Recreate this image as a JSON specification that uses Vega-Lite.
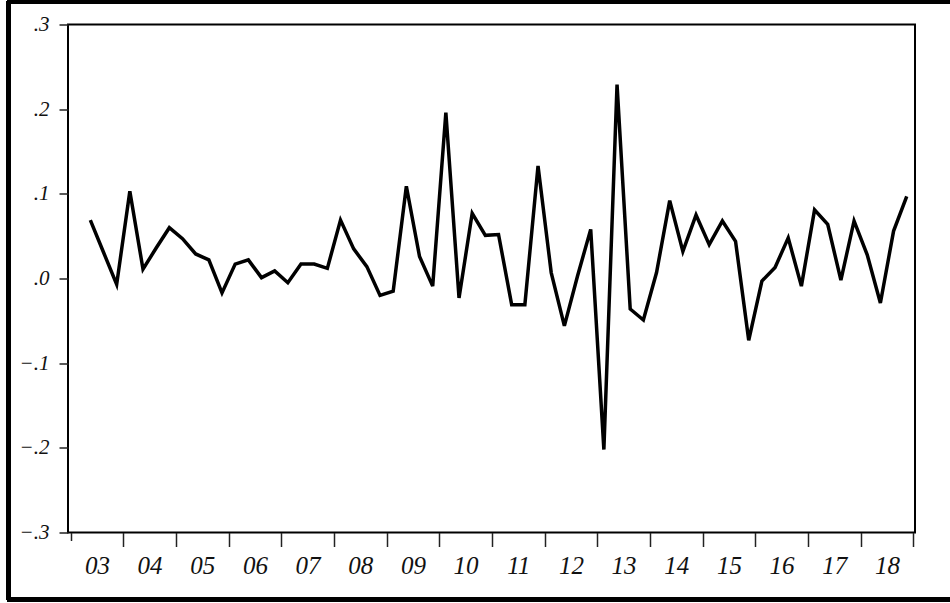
{
  "$schema": "https://vega.github.io/schema/vega-lite/v6.json",
  "autosize": {"type": "none"},
  "width": 847,
  "height": 508,
  "padding": {"left": 68, "top": 24.5, "right": 35, "bottom": 70.5},
  "background": "white",
  "config": {
    "font": "Liberation Serif",
    "view": {"stroke": "black", "strokeWidth": 2}
  },
  "data": {
    "values": [
      {"t": 2003.375, "v": 0.069}, {"t": 2003.625, "v": 0.031}, {"t": 2003.875, "v": -0.007},
      {"t": 2004.125, "v": 0.103}, {"t": 2004.375, "v": 0.011}, {"t": 2004.625, "v": 0.036}, {"t": 2004.875, "v": 0.060},
      {"t": 2005.125, "v": 0.047}, {"t": 2005.375, "v": 0.029}, {"t": 2005.625, "v": 0.022}, {"t": 2005.875, "v": -0.017},
      {"t": 2006.125, "v": 0.017}, {"t": 2006.375, "v": 0.022}, {"t": 2006.625, "v": 0.001}, {"t": 2006.875, "v": 0.009},
      {"t": 2007.125, "v": -0.005}, {"t": 2007.375, "v": 0.017}, {"t": 2007.625, "v": 0.017}, {"t": 2007.875, "v": 0.012},
      {"t": 2008.125, "v": 0.069}, {"t": 2008.375, "v": 0.035}, {"t": 2008.625, "v": 0.014}, {"t": 2008.875, "v": -0.020},
      {"t": 2009.125, "v": -0.015}, {"t": 2009.375, "v": 0.109}, {"t": 2009.625, "v": 0.026}, {"t": 2009.875, "v": -0.009},
      {"t": 2010.125, "v": 0.196}, {"t": 2010.375, "v": -0.023}, {"t": 2010.625, "v": 0.077}, {"t": 2010.875, "v": 0.051},
      {"t": 2011.125, "v": 0.052}, {"t": 2011.375, "v": -0.031}, {"t": 2011.625, "v": -0.031}, {"t": 2011.875, "v": 0.133},
      {"t": 2012.125, "v": 0.007}, {"t": 2012.375, "v": -0.056}, {"t": 2012.625, "v": 0.003}, {"t": 2012.875, "v": 0.058},
      {"t": 2013.125, "v": -0.202}, {"t": 2013.375, "v": 0.229}, {"t": 2013.625, "v": -0.036}, {"t": 2013.875, "v": -0.049},
      {"t": 2014.125, "v": 0.007}, {"t": 2014.375, "v": 0.092}, {"t": 2014.625, "v": 0.032}, {"t": 2014.875, "v": 0.075},
      {"t": 2015.125, "v": 0.040}, {"t": 2015.375, "v": 0.068}, {"t": 2015.625, "v": 0.044}, {"t": 2015.875, "v": -0.073},
      {"t": 2016.125, "v": -0.003}, {"t": 2016.375, "v": 0.013}, {"t": 2016.625, "v": 0.048}, {"t": 2016.875, "v": -0.009},
      {"t": 2017.125, "v": 0.081}, {"t": 2017.375, "v": 0.064}, {"t": 2017.625, "v": -0.002}, {"t": 2017.875, "v": 0.068},
      {"t": 2018.125, "v": 0.028}, {"t": 2018.375, "v": -0.029}, {"t": 2018.625, "v": 0.056}, {"t": 2018.875, "v": 0.097}
    ]
  },
  "layer": [
    {
      "mark": {"type": "line", "color": "black", "strokeWidth": 3.5, "clip": false},
      "encoding": {
        "x": {
          "field": "t",
          "type": "quantitative",
          "scale": {"domain": [2002.951, 2019.032], "nice": false, "zero": false},
          "axis": {
            "title": null,
            "grid": false,
            "domain": false,
            "values": [2003, 2003.25, 2003.5, 2003.75, 2004, 2004.25, 2004.5, 2004.75, 2005, 2005.25, 2005.5, 2005.75, 2006, 2006.25, 2006.5, 2006.75, 2007, 2007.25, 2007.5, 2007.75, 2008, 2008.25, 2008.5, 2008.75, 2009, 2009.25, 2009.5, 2009.75, 2010, 2010.25, 2010.5, 2010.75, 2011, 2011.25, 2011.5, 2011.75, 2012, 2012.25, 2012.5, 2012.75, 2013, 2013.25, 2013.5, 2013.75, 2014, 2014.25, 2014.5, 2014.75, 2015, 2015.25, 2015.5, 2015.75, 2016, 2016.25, 2016.5, 2016.75, 2017, 2017.25, 2017.5, 2017.75, 2018, 2018.25, 2018.5, 2018.75, 2019],
            "tickSize": {"condition": {"test": "datum.value % 1 === 0 && datum.value > 2003", "value": 14}, "value": 8},
            "labelPadding": {"condition": {"test": "datum.value === 2003", "value": 13}, "value": 7},
            "tickColor": "#222222",
            "tickWidth": 1.5,
            "labelExpr": "datum.value % 1 === 0 && datum.value < 2019 ? slice(format(datum.value, 'd'), 2) : ''",
            "labelOffset": 26.3,
            "labelFontSize": 25,
            "labelFontStyle": "italic",
            "labelColor": "#111111",
            "labelOverlap": false,
            "labelFlush": false,
            "labelBound": false
          }
        },
        "y": {
          "field": "v",
          "type": "quantitative",
          "scale": {"domain": [-0.3, 0.3], "nice": false, "zero": false},
          "axis": {
            "title": null,
            "grid": false,
            "domain": false,
            "values": [-0.3, -0.2, -0.1, 0, 0.1, 0.2, 0.3],
            "format": ".1f",
            "labelExpr": "replace(datum.label, '0.', '.')",
            "tickSize": 9,
            "tickColor": "#222222",
            "tickWidth": 1.5,
            "labelPadding": 10,
            "labelFontSize": 21,
            "labelFontStyle": "italic",
            "labelColor": "#111111",
            "labelOverlap": false,
            "labelFlush": false,
            "labelBound": false
          }
        }
      }
    },
    {
      "mark": {"type": "rule", "color": "black", "strokeWidth": 3.5, "clip": false},
      "encoding": {
        "x": {"datum": 2001.821, "type": "quantitative"},
        "y": {"datum": 0.3272, "type": "quantitative"},
        "y2": {"datum": -0.3792}
      }
    },
    {
      "mark": {"type": "rule", "color": "black", "strokeWidth": 3.5, "clip": false},
      "encoding": {
        "x": {"datum": 2001.80, "type": "quantitative"},
        "x2": {"datum": 2020.5},
        "y": {"datum": 0.3272, "type": "quantitative"}
      }
    },
    {
      "mark": {"type": "rule", "color": "black", "strokeWidth": 4, "clip": false},
      "encoding": {
        "x": {"datum": 2001.80, "type": "quantitative"},
        "x2": {"datum": 2020.5},
        "y": {"datum": -0.3792, "type": "quantitative"}
      }
    }
  ]
}
